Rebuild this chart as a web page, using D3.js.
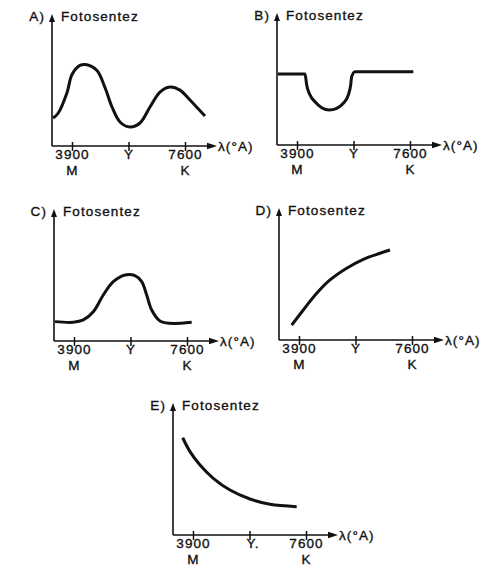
<!DOCTYPE html>
<html>
<head>
<meta charset="utf-8">
<script src="https://cdn.jsdelivr.net/npm/d3@7"></script>
<style>
  body { margin: 0; background: #fff; }
  text { font-family: "Liberation Sans", Arial, sans-serif; font-size: 13.5px; letter-spacing: 1.1px; fill: #111; stroke: #111; stroke-width: 0.35px; }
</style>
</head>
<body>
<svg id="chart" width="501" height="578"></svg>
<script>
// Panel letters and axis titles
const panelLetters = ["A)", "B)", "C)", "D)", "E)"];
const yTitle = "Fotosentez";
const xTitle = "λ(°A)";

// Wavelength ticks (Å): violet (M), yellow (Y), red (K)
const tickValues = [3900, 5750, 7600];
const tickTopLabels = ["3900", "Y", "7600"];
const tickTopLabelsE = ["3900", "Y.", "7600"];
const tickBottomLabels = ["M", "", "K"];

// Photosynthesis rate curves: [wavelength Å, relative rate]
const seriesA = [[3280, 21.5], [3440, 25], [3736, 41], [3900, 55], [4162, 62], [4390, 62.5],
  [4718, 58], [4980, 45], [5210, 30], [5471, 18.5], [5800, 14.6], [6126, 17.7], [6454, 30],
  [6781, 41.5], [7108, 45.4], [7436, 43], [7763, 35.4], [8254, 23]];
const seriesB = [[3278, 54.6], [4162, 54.6], [4217, 46.2], [4325, 38.5], [4489, 33.3], [4708, 28.7],
  [4957, 26.9], [5200, 28.2], [5416, 32.1], [5580, 38.5], [5658, 46.2], [5690, 52.5], [5799, 56.4], [7708, 56.4]];
const seriesC = [[3278, 14.9], [3877, 14.4], [4205, 16.2], [4532, 22.5], [4859, 35.4], [5187, 45.6],
  [5570, 50.8], [5897, 50.2], [6116, 45.6], [6280, 35.4], [6444, 23.8], [6715, 15.4], [7043, 13.6], [7753, 14.4]];
const seriesD = [[3661, 11.5], [4041, 23.1], [4479, 35.9], [4915, 46.2], [5461, 55.2], [6005, 62.1],
  [6552, 66.7], [6879, 69.2]];
const seriesE = [[3563, 74.8], [3802, 64.1], [4129, 53.8], [4564, 43.6], [5111, 34.6], [5766, 27.7],
  [6421, 23.6], [7295, 21.8]];

const svg = d3.select("#chart");

// Shared scales, relative to each panel's origin
const x = d3.scaleLinear().domain([3245, 8648]).range([0, 165]);
const y = d3.scaleLinear().domain([0, 100]).range([0, -130]);
const xEnd = 165, yEnd = -132;

const panels = [
  { data: seriesA, origin: [52, 146], curve: d3.curveCatmullRom, ticks: tickTopLabels },
  { data: seriesB, origin: [277, 145], curve: d3.curveMonotoneX, ticks: tickTopLabels },
  { data: seriesC, origin: [54, 341], curve: d3.curveCatmullRom, ticks: tickTopLabels },
  { data: seriesD, origin: [279, 340], curve: d3.curveCatmullRom, ticks: tickTopLabels },
  { data: seriesE, origin: [173, 535], curve: d3.curveCatmullRom, ticks: tickTopLabelsE }
];

panels.forEach((p, i) => {
  const g = svg.append("g").attr("transform", `translate(${p.origin[0]},${p.origin[1]})`);

  // x axis with ticks crossing the line
  const ax = g.append("g").call(
    d3.axisBottom(x).tickValues(tickValues).tickSize(5).tickSizeOuter(0).tickFormat((d, k) => p.ticks[k])
  );
  ax.select(".domain").remove();
  ax.selectAll(".tick line").attr("y1", -4).attr("stroke", "#111").attr("stroke-width", 1.5);
  ax.selectAll(".tick text").attr("y", 13).attr("dy", null)
    .attr("font-size", null).attr("font-family", null)
    .attr("dx", (d, k) => p.ticks[k] === "Y." ? 3 : 0);
  ax.selectAll(".tick").append("text")
    .attr("y", 29).attr("text-anchor", "middle")
    .text((d, k) => tickBottomLabels[k]);

  // axis lines
  g.append("line").attr("x1", 0).attr("y1", 0).attr("x2", xEnd - 6).attr("y2", 0)
    .attr("stroke", "#111").attr("stroke-width", 1.6);
  g.append("line").attr("x1", 0).attr("y1", 0).attr("x2", 0).attr("y2", yEnd + 5)
    .attr("stroke", "#111").attr("stroke-width", 1.6);

  // arrow heads
  g.append("path").attr("d", `M${xEnd},0 L${xEnd - 10},-3.2 L${xEnd - 10},3.2 Z`).attr("fill", "#111");
  g.append("path").attr("d", `M0,${yEnd} L-3,${yEnd + 8} L3,${yEnd + 8} Z`).attr("fill", "#111");

  // titles
  g.append("text").attr("x", -7).attr("y", -125).attr("text-anchor", "end").text(panelLetters[i]);
  g.append("text").attr("x", 9).attr("y", -125).text(yTitle);
  g.append("text").attr("x", xEnd + 1).attr("y", 5).text(xTitle);

  // curve
  const line = d3.line().x(d => x(d[0])).y(d => y(d[1])).curve(p.curve);
  g.append("path").datum(p.data).attr("d", line)
    .attr("fill", "none").attr("stroke", "#111").attr("stroke-width", 3)
    .attr("stroke-linecap", "butt").attr("stroke-linejoin", "round");
});
</script>
</body>
</html>
